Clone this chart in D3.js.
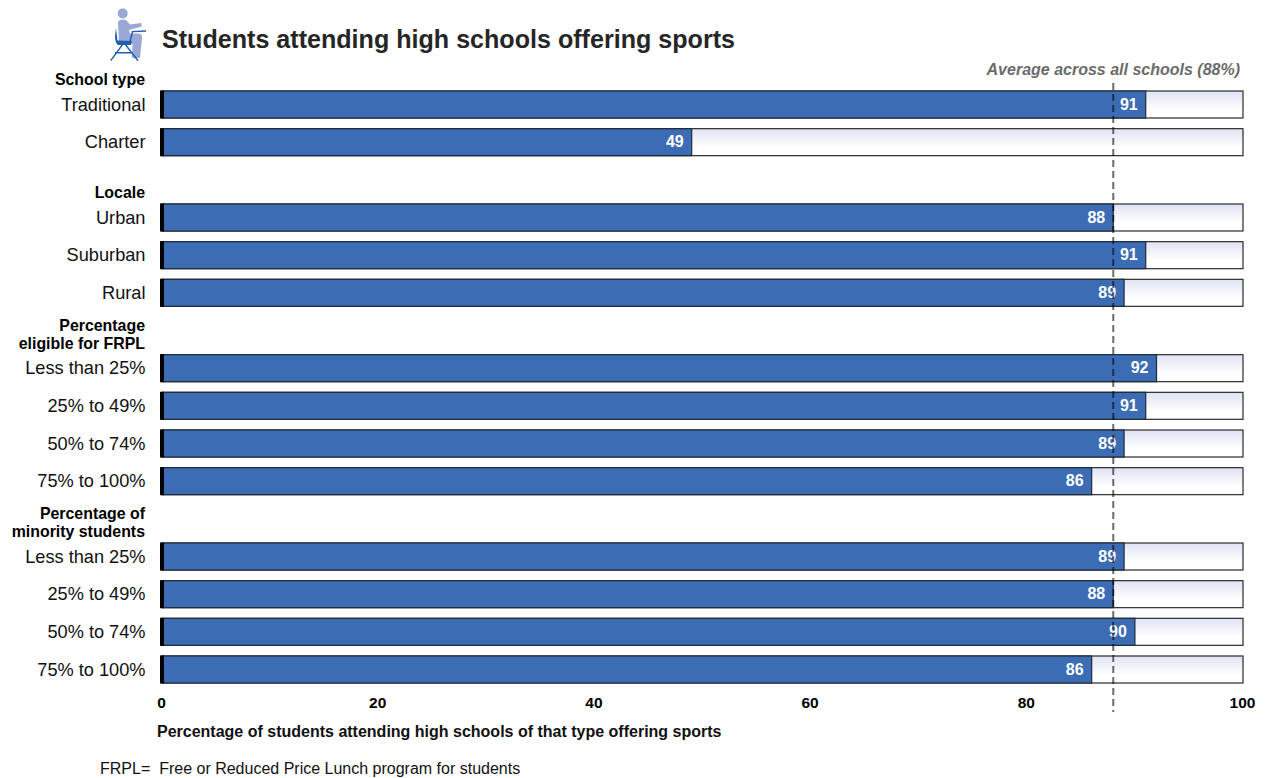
<!DOCTYPE html>
<html><head><meta charset="utf-8">
<script src="https://cdnjs.cloudflare.com/ajax/libs/d3/7.8.5/d3.min.js"></script>
<style>
html,body{margin:0;padding:0;background:#fff;overflow:hidden}
svg{display:block}
text{font-family:"Liberation Sans",Arial,sans-serif}
</style></head><body>
<svg id="c" width="1265" height="778"></svg>
<script>
const groups = [
  ["School type"],
  ["Locale"],
  ["Percentage","eligible for FRPL"],
  ["Percentage of","minority students"]
];
const groupIndex = [0,0,1,1,1,2,2,2,2,3,3,3,3];
const categories = ["Traditional","Charter","Urban","Suburban","Rural","Less than 25%","25% to 49%","50% to 74%","75% to 100%","Less than 25%","25% to 49%","50% to 74%","75% to 100%"];
const rowSlots = [0,1,3,4,5,7,8,9,10,12,13,14,15];
const values = [91,49,88,91,89,92,91,89,86,89,88,90,86];
const xTicks = [0,20,40,60,80,100];
const average = 88;
const titleText = "Students attending high schools offering sports";
const avgLabel = "Average across all schools (88%)";
const xTitle = "Percentage of students attending high schools of that type offering sports";
const footnote = "FRPL=  Free or Reduced Price Lunch program for students";

const svg = d3.select("#c");
const x = d3.scaleLinear().domain([0,100]).range([162,1243]);
const y = d3.scaleLinear().domain([0,15]).range([104.5,669.5]);
const barH = 27;
const row = d3.range(values.length).map(i=>({cat:categories[i],slot:rowSlots[i],v:values[i],g:groupIndex[i]}));

const defs = svg.append("defs");
const grad = defs.append("linearGradient").attr("id","track").attr("x1",0).attr("y1",0).attr("x2",0).attr("y2",1);
grad.append("stop").attr("offset",0).attr("stop-color","#dfe3f3");
grad.append("stop").attr("offset",0.7).attr("stop-color","#ffffff");

// tracks
svg.append("g").selectAll("rect").data(row).join("rect")
  .attr("x",x(0)).attr("y",d=>y(d.slot)-barH/2)
  .attr("width",x(100)-x(0)).attr("height",barH)
  .attr("fill","url(#track)").attr("stroke","#2b2b2b").attr("stroke-width",1.2);
// value bars
svg.append("g").selectAll("rect").data(row).join("rect")
  .attr("x",x(0)).attr("y",d=>y(d.slot)-barH/2)
  .attr("width",d=>x(d.v)-x(0)).attr("height",barH)
  .attr("fill","#3c6cb4").attr("stroke","#1f2a3a").attr("stroke-width",1.2);
// axis-side black stub
svg.append("g").selectAll("rect").data(row).join("rect")
  .attr("x",x(0)-2).attr("y",d=>y(d.slot)-barH/2-0.5)
  .attr("width",4).attr("height",barH+1).attr("fill","#000");

// value labels
svg.append("g").selectAll("text").data(row).join("text")
  .attr("x",d=>x(d.v)-8).attr("y",d=>y(d.slot)+5)
  .attr("text-anchor","end").attr("fill","#fff")
  .attr("font-size",16).attr("font-weight",700).text(d=>d.v);

// average line
svg.append("line").attr("x1",x(average)).attr("x2",x(average)).attr("y1",83).attr("y2",712)
  .attr("stroke","#000").attr("stroke-opacity",0.58).attr("stroke-width",2).attr("stroke-dasharray","7 4");
svg.append("text").attr("x",1240).attr("y",74.5).attr("text-anchor","end")
  .attr("font-size",16).attr("font-weight",700).attr("font-style","italic").attr("fill","#6b6b6b").text(avgLabel);

// category labels
svg.append("g").selectAll("text").data(row).join("text")
  .attr("x",145.5).attr("y",d=>y(d.slot)+6.3)
  .attr("text-anchor","end").attr("fill","#111").attr("font-size",18.2).text(d=>d.cat);

// group headers
const firstSlot = groups.map((g,i)=>row.find(r=>r.g===i).slot);
groups.forEach((lines,i)=>{
  const base = y(firstSlot[i]) - 19.2;
  lines.forEach((t,j)=>{
    svg.append("text").attr("x",145).attr("y",base-(lines.length-1-j)*18)
      .attr("text-anchor","end").attr("font-size",15.9).attr("font-weight",700).attr("fill","#000").text(t);
  });
});

// x axis
const axis = d3.axisBottom(x).tickValues(xTicks).tickSize(0).tickPadding(0);
const ax = svg.append("g").attr("transform","translate(-1,697)").call(axis);
ax.select(".domain").remove();
ax.selectAll("text").attr("font-size",15.5).attr("font-weight",700).attr("fill","#000")
  .attr("font-family","'Liberation Sans',Arial,sans-serif").attr("dy","0.71em");

svg.append("text").attr("x",157).attr("y",737).attr("font-size",16).attr("font-weight",700).attr("fill","#111").text(xTitle);
svg.append("text").attr("x",100).attr("y",774).attr("font-size",16).attr("fill","#111").style("white-space","pre").text(footnote);

// title
svg.append("text").attr("x",162).attr("y",48).attr("font-size",25.1).attr("font-weight",700).attr("fill","#262626").text(titleText);

// icon
const icon = svg.append("g");
icon.append("circle").attr("cx",122.7).attr("cy",13.4).attr("r",5).attr("fill","#9ba8d6");
icon.append("path").attr("d","M118 22 Q120 18.5 126 20 L130 24.5 L141 23 L142 26.5 L129 30 L130 33.5 L139 33.5 Q142.5 34 142 38 L140 58 L132 58 L132.5 44 L119 41 Z").attr("fill","#9ba8d6");
icon.append("path").attr("d","M116 28 L117.5 40.5 L132 41 L131 45 L118 45 Q115 43 115 36 Z").attr("fill","#1f5fb0");
icon.append("path").attr("d","M123 44 L110.7 60.7 M125 44 L138 60.7 M115 52.7 L131.7 52.7 M129 45 L132.5 32 M131.7 31.6 L146 31")
  .attr("stroke","#1f5fb0").attr("stroke-width",1.4).attr("fill","none");
</script>
</body></html>
